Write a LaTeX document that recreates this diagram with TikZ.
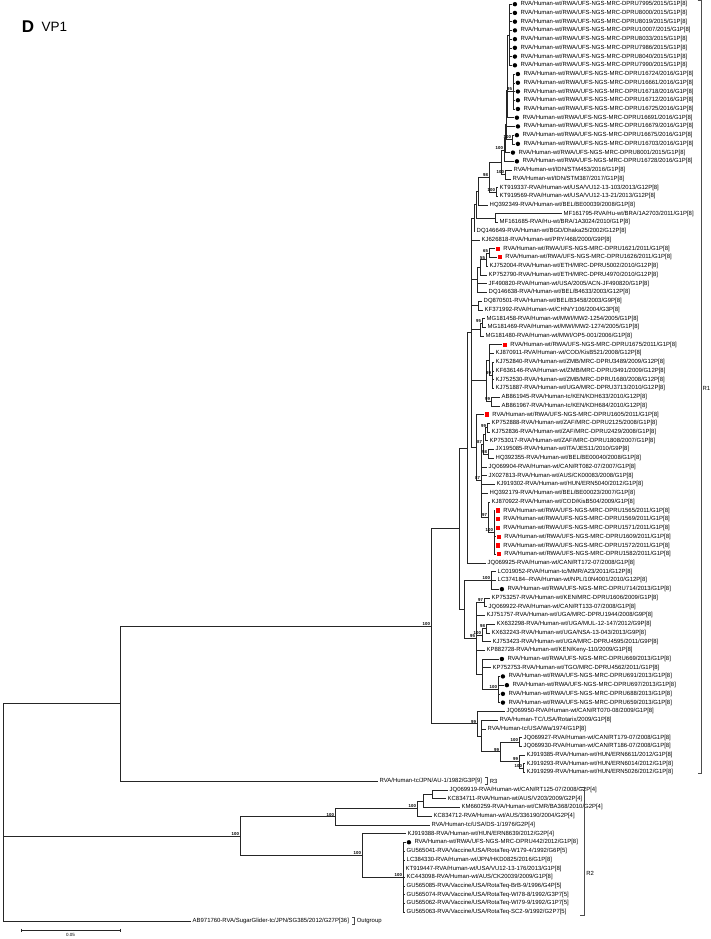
\documentclass[tikz,border=0pt]{standalone}
\usepackage{fontspec}
\setmainfont{Liberation Sans}
\usetikzlibrary{calc,positioning}
\tikzset{
  br/.style={black!85, line width=0.5pt},
  tip/.style={anchor=west, inner sep=0pt, font=\fontsize{5.95}{6}\selectfont},
  bsv/.style={anchor=south east, inner sep=0.3pt, font=\fontsize{4.3}{5}\selectfont\bfseries},
  rdot/.style={circle, fill=black, inner sep=0pt, minimum size=4.4pt},
  rsq/.style={rectangle, fill=red, inner sep=0pt, minimum size=4.2pt},
  brk/.style={black!70, line width=0.45pt},
  grp/.style={anchor=west, inner sep=0pt, font=\fontsize{5.95}{6}\selectfont},
}
% leaf rows, tips and labels
\newcommand{\rwa}[1]{RVA/Human-wt/RWA/UFS-NGS-MRC-DPRU#1/G1P[8]}
\newcommand{\leaf}[3]{\coordinate (t#1) at (#2,{4.2+(#1-1)*8.73});
  \node[tip] (l#1) at ([xshift=1.5pt]t#1) {#3};}
\newcommand{\leafc}[3]{\coordinate (t#1) at (#2,{4.2+(#1-1)*8.73});
  \node[rdot] (k#1) at ([xshift=2.9pt]t#1) {};
  \node[tip] (l#1) at ([xshift=3pt]k#1.east) {#3};}
\newcommand{\leafs}[3]{\coordinate (t#1) at (#2,{4.2+(#1-1)*8.73});
  \node[rsq] (k#1) at ([xshift=2.9pt]t#1) {};
  \node[tip] (l#1) at ([xshift=3pt]k#1.east) {#3};}
% inner node at x, halfway between first and last child
\newcommand{\inode}[4]{\path ($(#3)!.5!(#4)$) coordinate (m#1);
  \coordinate (#1) at (#2,0 |- m#1);}
\newcommand{\kids}[2]{\foreach \c in {#2} \draw[br] (#1) |- (\c);}
\newcommand{\kidsr}[3]{\foreach \i in {#2,...,#3} \draw[br] (#1) |- (t\i);}
\newcommand{\bs}[2]{\node[bsv] (b#1) at ([xshift=-0.6pt]#1) {#2};}

\begin{document}
\begin{tikzpicture}[x=1pt, y=-1pt]
  \useasboundingbox (0,0) rectangle (710,939);
  \node[font=\fontsize{17}{17}\selectfont\bfseries, inner sep=0pt] (hd) at (28,27) {D};
  \node[font=\fontsize{13.5}{14}\selectfont, inner sep=0pt, right=7pt of hd] (hv) {VP1};

  % R1
  \leafc{1}{512}{\rwa{7995/2015}}
  \leafc{2}{512}{\rwa{8000/2015}}
  \leafc{3}{512}{\rwa{8019/2015}}
  \leafc{4}{512}{\rwa{10007/2015}}
  \leafc{5}{512}{\rwa{8033/2015}}
  \leafc{6}{512}{\rwa{7986/2015}}
  \leafc{7}{512}{\rwa{8040/2015}}
  \leafc{8}{512}{\rwa{7990/2015}}
  \leafc{9}{515}{\rwa{16724/2016}}
  \leafc{10}{515}{\rwa{16661/2016}}
  \leafc{11}{515}{\rwa{16718/2016}}
  \leafc{12}{515}{\rwa{16712/2016}}
  \leafc{13}{515}{\rwa{16725/2016}}
  \leafc{14}{514}{\rwa{16691/2016}}
  \leafc{15}{515}{\rwa{16679/2016}}
  \leafc{16}{514}{\rwa{16675/2016}}
  \leafc{17}{515}{\rwa{16703/2016}}
  \leafc{18}{510}{\rwa{8001/2015}}
  \leafc{19}{514}{\rwa{16728/2016}}
  \leaf{20}{512}{RVA/Human-wt/IDN/STM453/2016/G1P[8]}
  \leaf{21}{511}{RVA/Human-wt/IDN/STM387/2017/G1P[8]}
  \leaf{22}{498}{KT919337-RVA/Human-wt/USA/VU12-13-103/2013/G12P[8]}
  \leaf{23}{498}{KT919569-RVA/Human-wt/USA/VU12-13-21/2013/G12P[8]}
  \leaf{24}{488}{HQ392349-RVA/Human-wt/BEL/BE00039/2008/G1P[8]}
  \leaf{25}{562}{MF161795-RVA/Hu-wt/BRA/1A2703/2011/G1P[8]}
  \leaf{26}{498}{MF161685-RVA/Hu-wt/BRA/1A3024/2010/G1P[8]}
  \leaf{27}{475}{DQ146649-RVA/Human-wt/BGD/Dhaka25/2002/G12P[8]}
  \leaf{28}{480}{KJ626818-RVA/Human-wt/PRY/468/2000/G9P[8]}
  \leafs{29}{495}{\rwa{1621/2011}}
  \leafs{30}{497}{\rwa{1626/2011}}
  \leaf{31}{488}{KJ752004-RVA/Human-wt/ETH/MRC-DPRU5002/2010/G12P[8]}
  \leaf{32}{487}{KP752790-RVA/Human-wt/ETH/MRC-DPRU4970/2010/G12P[8]}
  \leaf{33}{487}{JF490820-RVA/Human-wt/USA/2005/ACN-JF490820/G1P[8]}
  \leaf{34}{487}{DQ146638-RVA/Human-wt/BEL/B4633/2003/G12P[8]}
  \leaf{35}{482}{DQ870501-RVA/Human-wt/BEL/B3458/2003/G9P[8]}
  \leaf{36}{483}{KF371992-RVA/Human-wt/CHN/Y106/2004/G3P[8]}
  \leaf{37}{485}{MG181458-RVA/Human-wt/MWI/MW2-1254/2005/G1P[8]}
  \leaf{38}{486}{MG181469-RVA/Human-wt/MWI/MW2-1274/2005/G1P[8]}
  \leaf{39}{484}{MG181480-RVA/Human-wt/MWI/OP5-001/2006/G1P[8]}
  \leafs{40}{502}{\rwa{1675/2011}}
  \leaf{41}{494}{KJ870911-RVA/Human-wt/COD/KisB521/2008/G12P[8]}
  \leaf{42}{494}{KJ752840-RVA/Human-wt/ZMB/MRC-DPRU3489/2009/G12P[8]}
  \leaf{43}{494}{KF636146-RVA/Human-wt/ZMB/MRC-DPRU3491/2009/G12P[8]}
  \leaf{44}{494}{KJ752530-RVA/Human-wt/ZMB/MRC-DPRU1680/2008/G12P[8]}
  \leaf{45}{494}{KJ751887-RVA/Human-wt/UGA/MRC-DPRU3713/2010/G12P[8]}
  \leaf{46}{500}{AB861945-RVA/Human-tc/KEN/KDH633/2010/G12P[8]}
  \leaf{47}{500}{AB861967-RVA/Human-tc/KEN/KDH684/2010/G12P[8]}
  \leafs{48}{484}{\rwa{1605/2011}}
  \leaf{49}{490}{KP752888-RVA/Human-wt/ZAF/MRC-DPRU2125/2008/G1P[8]}
  \leaf{50}{490}{KJ752836-RVA/Human-wt/ZAF/MRC-DPRU2429/2008/G1P[8]}
  \leaf{51}{488}{KP753017-RVA/Human-wt/ZAF/MRC-DPRU1808/2007/G1P[8]}
  \leaf{52}{494}{JX195085-RVA/Human-wt/ITA/JES11/2010/G9P[8]}
  \leaf{53}{494}{HQ392355-RVA/Human-wt/BEL/BE00040/2008/G1P[8]}
  \leaf{54}{487}{JQ069904-RVA/Human-wt/CAN/RT082-07/2007/G1P[8]}
  \leaf{55}{487}{JX027813-RVA/Human-wt/AUS/CK00083/2008/G1P[8]}
  \leaf{56}{495}{KJ919302-RVA/Human-wt/HUN/ERN5040/2012/G1P[8]}
  \leaf{57}{488}{HQ392179-RVA/Human-wt/BEL/BE00023/2007/G1P[8]}
  \leaf{58}{490}{KJ870922-RVA/Human-wt/COD/KisB504/2009/G1P[8]}
  \leafs{59}{495}{\rwa{1565/2011}}
  \leafs{60}{495}{\rwa{1569/2011}}
  \leafs{61}{495}{\rwa{1571/2011}}
  \leafs{62}{496}{\rwa{1609/2011}}
  \leafs{63}{495}{\rwa{1572/2011}}
  \leafs{64}{496}{\rwa{1582/2011}}
  \leaf{65}{486}{JQ069925-RVA/Human-wt/CAN/RT172-07/2008/G1P[8]}
  \leaf{66}{496}{LC019052-RVA/Human-tc/MMR/A23/2011/G12P[8]}
  \leaf{67}{496}{LC374184-{}-RVA/Human-wt/NPL/10N4001/2010/G12P[8]}
  \leafc{68}{499}{\rwa{714/2013}}
  \leaf{69}{490}{KP753257-RVA/Human-wt/KEN/MRC-DPRU1606/2009/G1P[8]}
  \leaf{70}{487}{JQ069922-RVA/Human-wt/CAN/RT133-07/2008/G1P[8]}
  \leaf{71}{485}{KJ751757-RVA/Human-wt/UGA/MRC-DPRU1944/2008/G9P[8]}
  \leaf{72}{495}{KX632298-RVA/Human-wt/UGA/MUL-12-147/2012/G9P[8]}
  \leaf{73}{490}{KX632243-RVA/Human-wt/UGA/NSA-13-043/2013/G9P[8]}
  \leaf{74}{491}{KJ753423-RVA/Human-wt/UGA/MRC-DPRU4595/2011/G9P[8]}
  \leaf{75}{485}{KP882728-RVA/Human-wt/KEN/Keny-110/2009/G1P[8]}
  \leafc{76}{499}{\rwa{669/2013}}
  \leaf{77}{491}{KP752753-RVA/Human-wt/TGO/MRC-DPRU4562/2011/G1P[8]}
  \leafc{78}{500}{\rwa{691/2013}}
  \leafc{79}{504}{\rwa{697/2013}}
  \leafc{80}{500}{\rwa{688/2013}}
  \leafc{81}{500}{\rwa{659/2013}}
  \leaf{82}{505}{JQ069950-RVA/Human-wt/CAN/RT070-08/2009/G1P[8]}
  \leaf{83}{498}{RVA/Human-TC/USA/Rotarix/2009/G1P[8]}
  \leaf{84}{486}{RVA/Human-tc/USA/Wa/1974/G1P[8]}
  \leaf{85}{522}{JQ069927-RVA/Human-wt/CAN/RT179-07/2008/G1P[8]}
  \leaf{86}{522}{JQ069930-RVA/Human-wt/CAN/RT186-07/2008/G1P[8]}
  \leaf{87}{525}{KJ919385-RVA/Human-wt/HUN/ERN6611/2012/G1P[8]}
  \leaf{88}{525}{KJ919293-RVA/Human-wt/HUN/ERN6014/2012/G1P[8]}
  \leaf{89}{525}{KJ919299-RVA/Human-wt/HUN/ERN5026/2012/G1P[8]}
  % R3
  \leaf{90}{378}{RVA/Human-tc/JPN/AU-1/1982/G3P[9]}
  % R2
  \leaf{91}{448}{JQ069919-RVA/Human-wt/CAN/RT125-07/2008/G2P[4]}
  \leaf{92}{446}{KC834711-RVA/Human-wt/AUS/V203/2009/G2P[4]}
  \leaf{93}{460}{KM660259-RVA/Human-wt/CMR/BA368/2010/G2P[4]}
  \leaf{94}{432}{KC834712-RVA/Human-wt/AUS/336190/2004/G2P[4]}
  \leaf{95}{430}{RVA/Human-tc/USA/DS-1/1976/G2P[4]}
  \leaf{96}{406}{KJ919388-RVA/Human-wt/HUN/ERN8639/2012/G2P[4]}
  \leafc{97}{406}{RVA/Human-wt/RWA/UFS-NGS-MRC-DPRU442/2012/G1P[8]}
  \leaf{98}{405}{GU565041-RVA/Vaccine/USA/RotaTeq-W179-4/1992/G6P[5]}
  \leaf{99}{405}{LC384330-RVA/Human-wt/JPN/HKD0825/2016/G1P[8]}
  \leaf{100}{404}{KT919447-RVA/Human-wt/USA/VU12-13-176/2013/G1P[8]}
  \leaf{101}{405}{KC443098-RVA/Human-wt/AUS/CK20039/2009/G1P[8]}
  \leaf{102}{405}{GU565085-RVA/Vaccine/USA/RotaTeq-BrB-9/1996/G4P[5]}
  \leaf{103}{405}{GU565074-RVA/Vaccine/USA/RotaTeq-WI78-8/1992/G3P7[5]}
  \leaf{104}{405}{GU565062-RVA/Vaccine/USA/RotaTeq-WI79-9/1992/G1P7[5]}
  \leaf{105}{405}{GU565063-RVA/Vaccine/USA/RotaTeq-SC2-9/1992/G2P7[5]}
  % outgroup
  \leaf{106}{191}{AB971760-RVA/SugarGlider-tc/JPN/SG385/2012/G27P[36]}

  % tree, tips first, root last
  \inode{c1}{509}{t1}{t8} \kidsr{c1}{1}{8}
  \inode{c2}{513}{t9}{t13} \kidsr{c2}{9}{13}
  \inode{n1}{507.5}{c1}{c2} \kids{n1}{c1,c2}
  \inode{n2}{507}{n1}{t14} \kids{n2}{n1,t14}
  \inode{n3}{506.5}{n2}{t15} \kids{n3}{n2,t15}
  \inode{c3}{512}{t16}{t17} \kidsr{c3}{16}{17}
  \inode{n4}{506}{n3}{c3} \kids{n4}{n3,c3}
  \inode{n5}{505}{n4}{t18} \kids{n5}{n4,t18}
  \inode{n6}{504}{n5}{t19} \kids{n6}{n5,t19}
  \inode{stm}{505}{t20}{t21} \kidsr{stm}{20}{21}
  \inode{p1}{501}{n6}{stm} \kids{p1}{n6,stm}
  \inode{kt}{496}{t22}{t23} \kidsr{kt}{22}{23}
  \inode{tt}{489}{p1}{kt} \kids{tt}{p1,kt}
  \inode{u1}{478}{tt}{t24} \kids{u1}{tt,t24}
  \inode{mf}{495}{t25}{t26} \kidsr{mf}{25}{26}
  \inode{u2}{476}{u1}{mf} \kids{u2}{u1,mf}
  \inode{u3}{474}{u2}{t27} \kids{u3}{u2,t27}
  \inode{s1}{489}{t29}{t30} \kidsr{s1}{29}{30}
  \inode{s2}{486}{s1}{t31} \kids{s2}{s1,t31}
  \inode{s3}{480}{s2}{t32} \kids{s3}{s2,t32}
  \inode{s4}{477}{s3}{t34} \kids{s4}{s3,t33,t34}
  \inode{s5}{478}{t35}{t36} \kidsr{s5}{35}{36}
  \inode{m1}{482}{t37}{t38} \kidsr{m1}{37}{38}
  \inode{m2}{480}{m1}{t39} \kids{m2}{m1,t39}
  \inode{z1}{492}{t42}{t45} \kidsr{z1}{42}{45}
  \inode{k1}{489}{t40}{z1} \kids{k1}{t40,t41,z1}
  \inode{ab}{491}{t46}{t47} \kidsr{ab}{46}{47}
  \inode{k2}{486}{k1}{ab} \kids{k2}{k1,ab}
  \inode{g1}{487}{t49}{t50} \kidsr{g1}{49}{50}
  \inode{g2}{485}{g1}{t51} \kids{g2}{g1,t51}
  \inode{g3}{488}{t52}{t53} \kidsr{g3}{52}{53}
  \inode{g4}{483}{g2}{g3} \kids{g4}{g2,g3}
  \inode{rw}{494}{t59}{t64} \kidsr{rw}{59}{64}
  \inode{g5}{488}{t58}{rw} \kids{g5}{t58,rw}
  \inode{gg}{481}{g4}{g5} \kids{gg}{g4,t54,t55,t56,t57,g5}
  \inode{ns}{476}{t48}{gg} \kids{ns}{t48,gg}
  \inode{nup}{471}{u3}{ns} \kids{nup}{u3,t28,s4,s5,m2,k2,ns}
  \inode{na}{467}{nup}{t65} \kids{na}{nup,t65}
  \inode{lc}{491}{t66}{t68} \kidsr{lc}{66}{68}
  \inode{k97}{484}{t69}{t70} \kidsr{k97}{69}{70}
  \inode{kx}{486}{t72}{t73} \kidsr{kx}{72}{73}
  \inode{q1}{482}{kx}{t74} \kids{q1}{kx,t74}
  \inode{rwb}{498}{t78}{t81} \kidsr{rwb}{78}{81}
  \inode{q2}{482}{t76}{rwb} \kids{q2}{t76,t77,rwb}
  \inode{kp}{476}{k97}{q2} \kids{kp}{k97,t71,q1,t75,q2}
  \inode{nb}{464}{lc}{kp} \kids{nb}{lc,kp}
  \inode{nc}{459}{na}{nb} \kids{nc}{na,nb}
  \inode{w1}{519}{t85}{t86} \kidsr{w1}{85}{86}
  \inode{w2}{523}{t88}{t89} \kidsr{w2}{88}{89}
  \inode{w3}{519}{t87}{w2} \kids{w3}{t87,w2}
  \inode{w4}{500}{w1}{w3} \kids{w4}{w1,w3}
  \inode{wb}{481}{t83}{w4} \kids{wb}{t83,t84,w4}
  \inode{wa}{477}{t82}{wb} \kids{wa}{t82,wb}
  \inode{r1}{431}{nc}{wa} \kids{r1}{nc,wa}
  \inode{r13}{120}{r1}{t90} \kids{r13}{r1,t90}
  \inode{p4a}{432}{t91}{t92} \kidsr{p4a}{91}{92}
  \inode{p4b}{423}{p4a}{t93} \kids{p4b}{p4a,t93}
  \inode{p4}{417}{p4b}{t94} \kids{p4}{p4b,t94}
  \inode{r2u}{335}{p4}{t95} \kids{r2u}{p4,t95}
  \inode{zz}{403}{t97}{t105} \kidsr{zz}{97}{105}
  \inode{r2l}{362}{t96}{zz} \kids{r2l}{t96,zz}
  \inode{r2}{240}{r2u}{r2l} \kids{r2}{r2u,r2l}
  \inode{root}{3}{r13}{t106} \kids{root}{r13,r2,t106}

  % bootstrap values
  \bs{c2}{95} \bs{c3}{100} \bs{n6}{100} \bs{stm}{100} \bs{kt}{100}
  \bs{tt}{98} \bs{s1}{65} \bs{s2}{55} \bs{m1}{95} \bs{z1}{99}
  \bs{ab}{99} \bs{g1}{99} \bs{g3}{98} \bs{g4}{87} \bs{gg}{87}
  \bs{g5}{97} \bs{rw}{100} \bs{lc}{100} \bs{k97}{97} \bs{kx}{98}
  \bs{q1}{100} \bs{kp}{95} \bs{rwb}{100} \bs{wa}{99} \bs{w1}{100}
  \bs{w3}{99} \bs{w2}{100} \bs{w4}{99} \bs{r1}{100} \bs{r2}{100}
  \bs{r2u}{100} \bs{p4}{100} \bs{r2l}{100} \bs{zz}{100}

  % genotype brackets
  \draw[brk] (697.5,0.5) -- (701.5,0.5) -- (701.5,773) -- (697.5,773);
  \node[grp] (gR1) at (702.3,388) {R1};
  \coordinate (e90) at ($(l90.east)+(3,0)$);
  \draw[brk] ($(e90)+(0,-3.5)$) -- ++(2,0) -- ++(0,7) -- ++(-2,0);
  \node[grp] (gR3) at ($(e90)+(4.5,0)$) {R3};
  \coordinate (e97) at ($(l97.east)+(6,0)$);
  \draw[brk] ($(e97 |- t91)+(-4,-3)$) -- ($(e97 |- t91)+(0,-3)$)
    -- ($(e97 |- t105)+(0,3)$) -- ($(e97 |- t105)+(-4,3)$);
  \node[grp] (gR2) at ($(e97)!.5!(e97 |- t105)+(2,-4)$) {R2};
  \coordinate (e106) at ($(l106.east)+(3,0)$);
  \draw[brk] ($(e106)+(0,-3.5)$) -- ++(2,0) -- ++(0,7) -- ++(-2,0);
  \node[grp] (gOut) at ($(e106)+(4.5,0)$) {Outgroup};

  % scale bar
  \coordinate (sa) at (21,930);
  \coordinate (sb) at (120,930);
  \draw[br] (sa) -- (sb);
  \draw[br] ($(sa)+(0,-1.5)$) -- ($(sa)+(0,1.5)$);
  \draw[br] ($(sb)+(0,-1.5)$) -- ($(sb)+(0,1.5)$);
  \node[font=\fontsize{4.5}{5}\selectfont, inner sep=0pt] (sl) at ($(sa)!.5!(sb)+(0,5)$) {0.05};
\end{tikzpicture}
\end{document}
